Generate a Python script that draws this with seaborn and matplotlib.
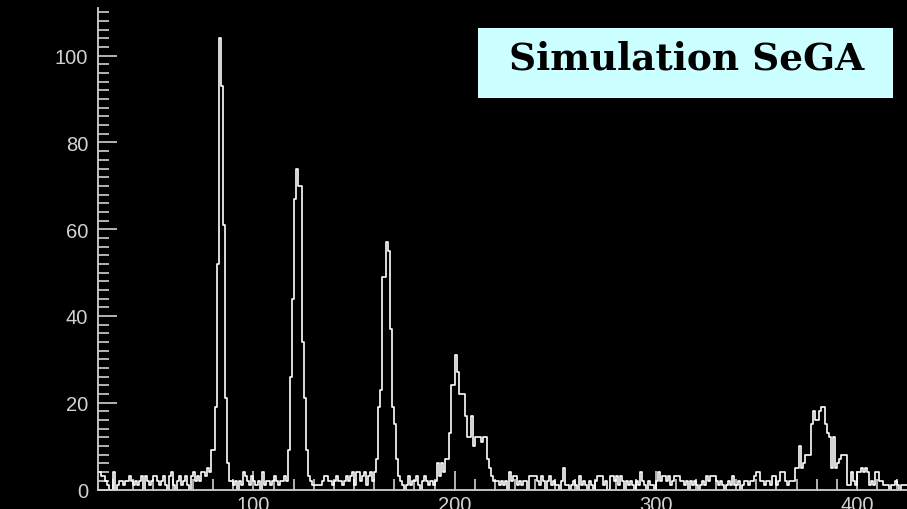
import numpy as np
import pandas as pd
import matplotlib
matplotlib.use("Agg")
import matplotlib.pyplot as plt
from matplotlib.patches import Rectangle
from matplotlib.ticker import MultipleLocator
import seaborn as sns

# Spectrum: counts per 1-channel bin, channels 23 .. 424
first_channel = 23
counts = [
    4, 3, 3, 2, 1, 0, 0, 4, 0, 1,
    2, 2, 1, 2, 2, 3, 2, 1, 2, 1,
    2, 3, 0, 3, 2, 1, 2, 3, 3, 2,
    1, 2, 3, 1, 0, 3, 4, 1, 0, 2,
    3, 1, 2, 3, 1, 0, 3, 4, 2, 3,
    2, 4, 4, 3, 5, 4, 9, 9, 19, 52,
    104, 93, 61, 21, 6, 2, 2, 1, 2, 0,
    2, 1, 4, 3, 2, 1, 3, 2, 1, 2,
    0, 4, 1, 2, 2, 1, 2, 3, 2, 1,
    2, 2, 3, 2, 9, 26, 44, 67, 74, 70,
    70, 34, 21, 9, 3, 2, 1, 1, 1, 1,
    1, 2, 3, 3, 2, 2, 1, 2, 3, 2,
    2, 1, 2, 3, 2, 3, 4, 1, 4, 4,
    2, 3, 4, 1, 3, 4, 2, 4, 7, 19,
    23, 49, 49, 57, 55, 37, 19, 15, 7, 3,
    2, 1, 0, 1, 3, 1, 2, 2, 3, 1,
    0, 2, 3, 2, 1, 2, 1, 2, 6, 3,
    6, 4, 7, 7, 13, 24, 24, 31, 27, 22,
    22, 22, 17, 12, 12, 17, 10, 12, 12, 12,
    11, 12, 12, 7, 5, 3, 2, 2, 2, 1,
    2, 1, 2, 0, 4, 2, 3, 3, 1, 2,
    1, 2, 2, 0, 3, 3, 3, 3, 2, 1,
    3, 2, 0, 2, 3, 1, 2, 1, 1, 0,
    2, 5, 1, 1, 0, 1, 2, 1, 0, 3,
    1, 2, 1, 0, 2, 1, 0, 2, 3, 3,
    3, 1, 2, 0, 3, 3, 2, 3, 1, 3,
    2, 0, 2, 1, 2, 1, 0, 2, 1, 4,
    2, 1, 0, 2, 1, 1, 0, 2, 4, 2,
    3, 3, 2, 3, 1, 2, 3, 3, 3, 2,
    2, 1, 2, 0, 2, 1, 2, 1, 0, 1,
    2, 1, 3, 2, 3, 3, 3, 2, 1, 2,
    1, 0, 1, 2, 1, 3, 1, 1, 2, 0,
    1, 2, 2, 1, 2, 2, 3, 4, 4, 2,
    2, 1, 2, 2, 1, 3, 3, 1, 2, 4,
    4, 2, 1, 2, 2, 2, 5, 5, 10, 5,
    6, 8, 8, 8, 15, 18, 16, 16, 18, 19,
    19, 15, 13, 12, 5, 12, 5, 6, 7, 8,
    8, 8, 1, 1, 4, 2, 1, 4, 4, 5,
    4, 5, 4, 1, 2, 1, 4, 4, 2, 2,
    1, 1, 1, 0, 1, 1, 2, 1, 0, 1,
    1, 1,
]
x_ticks = [100, 200, 300, 400]
y_ticks = [0, 20, 40, 60, 80, 100]
title = "Simulation SeGA"

edges = [first_channel + i for i in range(len(counts) + 1)]
spectrum = pd.DataFrame({"channel": [e + 0.5 for e in edges[:-1]],
                         "counts": np.asarray(counts, dtype=float)})

W, H = 907, 510
fig = plt.figure(figsize=(W / 100, H / 100), dpi=100, facecolor="black")
ax = fig.add_axes([98 / W, (H - 490.5) / H, 1 - 98 / W, (490.5 - 9) / H])
ax.set_facecolor("black")

sns.histplot(data=spectrum, x="channel", weights="counts", bins=edges,
             element="step", fill=False, color="white", linewidth=1.2, ax=ax)

ax.set_xlim(22.7, 424.9)
ax.set_ylim(0, 111)
ax.set_xlabel("")
ax.set_ylabel("")

axis_grey = "#d2d2d2"
for side in ("top", "right"):
    ax.spines[side].set_visible(False)
for side in ("left", "bottom"):
    ax.spines[side].set_color(axis_grey)
    ax.spines[side].set_linewidth(1.3)

ax.set_xticks(x_ticks)
ax.set_yticks(y_ticks)
ax.xaxis.set_minor_locator(MultipleLocator(10))
ax.yaxis.set_minor_locator(MultipleLocator(2))
ax.tick_params(which="both", direction="in", color=axis_grey, width=1.2,
               labelcolor=axis_grey)
ax.tick_params(which="major", length=13.5)
ax.tick_params(which="minor", length=8)
ax.tick_params(axis="y", which="major", pad=7)
ax.tick_params(axis="x", which="major", pad=4)
for lab in ax.get_xticklabels() + ax.get_yticklabels():
    lab.set_family(["Liberation Sans", "DejaVu Sans"])
    lab.set_fontsize(14.5)

# Title panel
fig.patches.append(Rectangle((478 / W, (H - 99) / H), 415 / W, 70 / H,
                             transform=fig.transFigure, facecolor="#ccffff",
                             edgecolor="none", zorder=5))
fig.text(686.5 / W, (H - 70) / H, title, ha="center", va="baseline",
         fontsize=27, fontweight="bold", family="DejaVu Serif",
         color="black", zorder=6)

fig.savefig("out.png", dpi=100, facecolor="black")
